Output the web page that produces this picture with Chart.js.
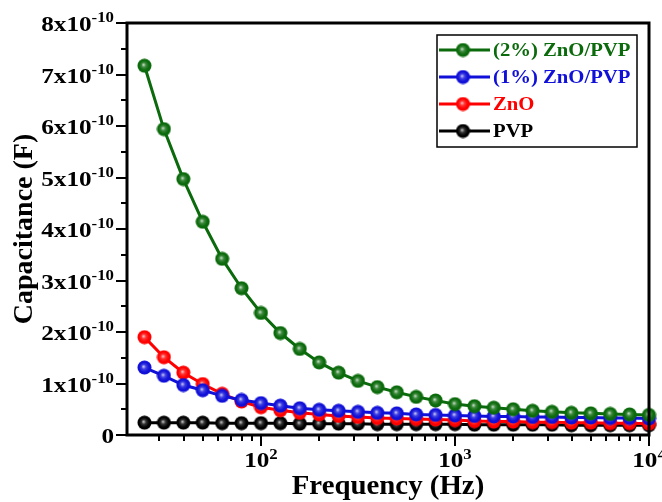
<!DOCTYPE html>
<html>
<head>
<meta charset="utf-8">
<script src="https://cdn.jsdelivr.net/npm/chart.js@4"></script>
<style>
  body { margin: 0; background: #fff; }
  #wrap { width: 662px; height: 502px; }
</style>
</head>
<body>
<div id="wrap"><canvas id="cap" width="662" height="502"></canvas></div>
<script>
// frequency (Hz), 10 points per decade
var freqs = [25.1, 31.6, 39.8, 50.1, 63.1, 79.4, 100, 125.9, 158.5, 199.5, 251.2, 316.2, 398.1,
    501.2, 631, 794.3, 1000, 1258.9, 1584.9, 1995.3, 2511.9, 3162.3, 3981.1, 5011.9, 6309.6, 7943.3, 10000];

var labels = ["(2%) ZnO/PVP", "(1%) ZnO/PVP", "ZnO", "PVP"];
var colors = ["#0b6a0b", "#1010d8", "#ff0000", "#000000"];

// capacitance (F)
var zno2pvp = [7.17e-10, 5.94e-10, 4.97e-10, 4.14e-10, 3.42e-10, 2.85e-10, 2.37e-10, 1.98e-10, 1.67e-10,
    1.41e-10, 1.21e-10, 1.05e-10, 0.93e-10, 0.83e-10, 0.74e-10, 0.67e-10, 0.60e-10, 0.56e-10, 0.53e-10,
    0.50e-10, 0.47e-10, 0.45e-10, 0.43e-10, 0.42e-10, 0.41e-10, 0.40e-10, 0.39e-10];
var zno1pvp = [1.31e-10, 1.15e-10, 0.97e-10, 0.87e-10, 0.76e-10, 0.68e-10, 0.62e-10, 0.57e-10, 0.52e-10,
    0.49e-10, 0.47e-10, 0.45e-10, 0.43e-10, 0.42e-10, 0.40e-10, 0.39e-10, 0.38e-10, 0.37e-10, 0.36e-10,
    0.36e-10, 0.35e-10, 0.35e-10, 0.34e-10, 0.34e-10, 0.33e-10, 0.33e-10, 0.32e-10];
var zno = [1.90e-10, 1.51e-10, 1.21e-10, 0.99e-10, 0.80e-10, 0.65e-10, 0.54e-10, 0.48e-10, 0.43e-10,
    0.40e-10, 0.37e-10, 0.35e-10, 0.33e-10, 0.32e-10, 0.31e-10, 0.30e-10, 0.29e-10, 0.27e-10, 0.26e-10,
    0.26e-10, 0.25e-10, 0.25e-10, 0.24e-10, 0.24e-10, 0.23e-10, 0.23e-10, 0.22e-10];
var pvp = [0.24e-10, 0.24e-10, 0.24e-10, 0.24e-10, 0.23e-10, 0.23e-10, 0.23e-10, 0.23e-10, 0.22e-10,
    0.22e-10, 0.22e-10, 0.22e-10, 0.21e-10, 0.21e-10, 0.21e-10, 0.21e-10, 0.21e-10, 0.20e-10, 0.20e-10,
    0.20e-10, 0.20e-10, 0.20e-10, 0.19e-10, 0.19e-10, 0.19e-10, 0.19e-10, 0.19e-10];

var yTicks = [0, 1e-10, 2e-10, 3e-10, 4e-10, 5e-10, 6e-10, 7e-10, 8e-10];
var xTicks = [100, 1000, 10000];

var serif = "'Liberation Serif', 'Times New Roman', serif";

function mix(hex, t) {
    var r = parseInt(hex.substr(1, 2), 16), g = parseInt(hex.substr(3, 2), 16), b = parseInt(hex.substr(5, 2), 16);
    r = Math.round(r + (255 - r) * t); g = Math.round(g + (255 - g) * t); b = Math.round(b + (255 - b) * t);
    return "rgb(" + r + "," + g + "," + b + ")";
}

// shaded ball marker like the original plot
function sphere(color) {
    var c = document.createElement("canvas");
    c.width = 15; c.height = 15;
    var g = c.getContext("2d");
    var grad = g.createRadialGradient(6.5, 6.5, 0.3, 7.5, 7.5, 7);
    grad.addColorStop(0, mix(color, 0.75));
    grad.addColorStop(0.3, mix(color, 0.2));
    grad.addColorStop(0.7, color);
    grad.addColorStop(1, color);
    g.fillStyle = grad;
    g.beginPath();
    g.arc(7.5, 7.5, 7, 0, 2 * Math.PI);
    g.fill();
    return c;
}

function points(ys) {
    return freqs.map(function(f, i) { return { x: f, y: ys[i] }; });
}

function txt(ctx, s, x, y, font, color, align, sx) {
    ctx.save();
    ctx.font = font;
    ctx.fillStyle = color;
    ctx.textAlign = align || "left";
    ctx.textBaseline = "alphabetic";
    ctx.translate(x, y);
    ctx.scale(sx || 1, 1);
    ctx.fillText(s, 0, 0);
    ctx.restore();
}

function width(ctx, s, font, sx) {
    ctx.font = font;
    return ctx.measureText(s).width * (sx || 1);
}

var markers = colors.map(sphere);
var series = [zno2pvp, zno1pvp, zno, pvp];

var frame = {
    id: "frame",
    afterDraw: function(chart) {
        var ctx = chart.ctx, a = chart.chartArea;
        var xs = chart.scales.x, ys = chart.scales.y;
        ctx.save();
        ctx.strokeStyle = "#000";
        ctx.lineWidth = 3;
        ctx.strokeRect(a.left, a.top, a.right - a.left, a.bottom - a.top);

        // y ticks (major + minor)
        ctx.lineWidth = 2;
        ctx.beginPath();
        for (var v = 0; v <= 8; v += 0.5) {
            var py = Math.round(ys.getPixelForValue(v * 1e-10));
            var len = (v % 1 === 0) ? 11 : 6;
            ctx.moveTo(a.left, py);
            ctx.lineTo(a.left - len, py);
        }
        // x ticks (log decades + minors)
        for (var d = 10; d <= 10000; d *= 10) {
            for (var m = 1; m <= 9; m++) {
                var f = d * m;
                if (f < xs.min || f > xs.max) continue;
                var px = Math.round(xs.getPixelForValue(f));
                ctx.moveTo(px, a.bottom);
                ctx.lineTo(px, a.bottom + (m === 1 ? 11 : 6));
            }
        }
        ctx.stroke();

        var bf = "bold 21px " + serif, sf = "bold 14px " + serif, sx = 1.2;
        yTicks.forEach(function(t, i) {
            var py = ys.getPixelForValue(t);
            var right = 114;
            if (i === 0) {
                txt(ctx, "0", right, py + 8, bf, "#000", "right", sx);
                return;
            }
            var sw = width(ctx, "-10", sf, sx);
            txt(ctx, "-10", right, py - 1, sf, "#000", "right", sx);
            txt(ctx, i + "x10", right - sw, py + 8, bf, "#000", "right", sx);
        });
        xTicks.forEach(function(t) {
            var px = xs.getPixelForValue(t);
            var sup = String(Math.round(Math.log10(t)));
            var w1 = width(ctx, "10", bf, sx), w2 = width(ctx, sup, sf, sx);
            var x0 = px - (w1 + w2) / 2;
            txt(ctx, "10", x0, 467, bf, "#000", "left", sx);
            txt(ctx, sup, x0 + w1, 459, sf, "#000", "left", sx);
        });

        // axis titles
        txt(ctx, "Frequency (Hz)", (a.left + a.right) / 2, 494, "bold 28px " + serif, "#000", "center", 1.03);
        ctx.save();
        ctx.translate(32, (a.top + a.bottom) / 2);
        ctx.rotate(-Math.PI / 2);
        txt(ctx, "Capacitance (F)", 0, 0, "bold 28px " + serif, "#000", "center", 1);
        ctx.restore();

        // legend box
        ctx.lineWidth = 1.5;
        ctx.strokeStyle = "#000";
        ctx.strokeRect(437, 35, 200, 112);
        labels.forEach(function(l, i) {
            var cy = 50 + i * 27;
            ctx.strokeStyle = colors[i];
            ctx.lineWidth = 3;
            ctx.beginPath();
            ctx.moveTo(439, cy);
            ctx.lineTo(490, cy);
            ctx.stroke();
            ctx.drawImage(markers[i], 463 - 7.5, cy - 7.5);
            txt(ctx, l, 493, cy + 6, "bold 18px " + serif, colors[i], "left", 1.15);
        });
        ctx.restore();
    }
};

new Chart(document.getElementById("cap"), {
    type: "line",
    data: {
        datasets: labels.map(function(l, i) {
            return {
                label: l,
                data: points(series[i]),
                borderColor: colors[i],
                backgroundColor: colors[i],
                borderWidth: 3,
                pointStyle: markers[i],
                pointRadius: 7,
                tension: 0,
                clip: false
            };
        })
    },
    options: {
        responsive: false,
        animation: false,
        events: [],
        layout: { padding: { left: 127, right: 13, top: 23, bottom: 67 } },
        plugins: { legend: { display: false }, tooltip: { enabled: false } },
        scales: {
            x: { type: "logarithmic", min: 20.4, max: 10000, display: false },
            y: { type: "linear", min: 0, max: 8e-10, display: false }
        }
    },
    plugins: [frame]
});
</script>
</body>
</html>
